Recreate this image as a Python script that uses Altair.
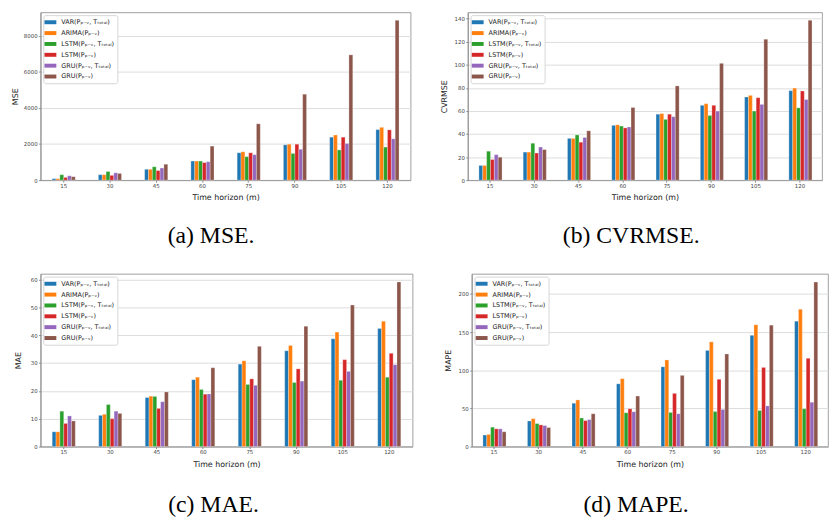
import altair as alt
import pandas as pd

horizons = ["15", "30", "45", "60", "75", "90", "105", "120"]
models = ["VAR(Pₚ₋ᵥ, Tₜₒₜₐₗ)", "ARIMA(Pₚ₋ᵥ)", "LSTM(Pₚ₋ᵥ, Tₜₒₜₐₗ)",
          "LSTM(Pₚ₋ᵥ)", "GRU(Pₚ₋ᵥ, Tₜₒₜₐₗ)", "GRU(Pₚ₋ᵥ)"]
colors = ["#1f77b4", "#ff7f0e", "#2ca02c", "#d62728", "#9467bd", "#8c564b"]

# MSE
mse_var = [80, 300, 600, 1057, 1515, 1956, 2380, 2800]
mse_arima = [80, 300, 600, 1057, 1570, 1990, 2500, 2925]
mse_lstm_t = [300, 476, 740, 1057, 1300, 1480, 1675, 1830]
mse_lstm = [150, 264, 530, 970, 1515, 1990, 2380, 2785]
mse_gru_t = [240, 405, 670, 1020, 1410, 1710, 2030, 2290]
mse_gru = [190, 370, 880, 1885, 3120, 4760, 6940, 8850]

# CVRMSE
cv_var = [12.7, 24.3, 36.2, 47.5, 57.2, 64.9, 72.1, 77.6]
cv_arima = [12.7, 24.3, 36.2, 48.0, 57.7, 66.3, 73.5, 79.8]
cv_lstm_t = [25.1, 32.0, 39.2, 46.9, 52.7, 56.1, 59.9, 62.7]
cv_lstm = [17.9, 23.5, 32.9, 45.3, 57.2, 64.9, 71.5, 77.3]
cv_gru_t = [22.1, 28.7, 37.0, 46.1, 55.0, 59.9, 65.7, 69.9]
cv_gru = [19.9, 26.5, 42.8, 63.0, 81.7, 101.3, 122.3, 138.6]

# MAE
mae_var = [5.3, 11.2, 17.6, 24.0, 29.6, 34.4, 38.7, 42.4]
mae_arima = [5.3, 11.6, 18.1, 24.9, 30.8, 36.3, 41.1, 45.0]
mae_lstm_t = [12.7, 15.1, 18.0, 20.5, 22.3, 23.0, 23.8, 24.9]
mae_lstm = [8.3, 10.0, 13.7, 18.8, 24.3, 27.9, 31.2, 33.5]
mae_gru_t = [11.0, 12.7, 16.1, 18.9, 22.0, 23.5, 27.0, 29.4]
mae_gru = [9.2, 11.9, 19.6, 28.3, 36.0, 43.2, 50.8, 59.1]

# MAPE
mape_var = [15.1, 33.5, 56.8, 82.2, 104.5, 126.0, 145.8, 164.3]
mape_arima = [15.9, 36.6, 61.1, 89.0, 113.5, 137.2, 159.6, 179.8]
mape_lstm_t = [25.4, 30.1, 37.4, 44.3, 44.7, 46.0, 47.3, 49.5]
mape_lstm = [23.2, 28.4, 34.0, 49.5, 69.7, 88.2, 103.7, 115.7]
mape_gru_t = [23.2, 27.5, 35.3, 45.6, 43.0, 48.6, 53.3, 58.1]
mape_gru = [19.4, 24.9, 43.0, 66.2, 93.3, 121.3, 159.1, 215.5]


def frame(series):
    rows = []
    for m, vals in zip(models, series):
        for h, v in zip(horizons, vals):
            rows.append({"horizon": h, "model": m, "value": v})
    return pd.DataFrame(rows)


def panel(series, ytitle, ytop, yticks, width, height, caption, tpad, coff):
    df = frame(series)
    return alt.Chart(df).mark_bar(
        stroke="white", strokeWidth=0.4, strokeOpacity=0.7
    ).encode(
        x=alt.X("horizon:N", sort=horizons, title="Time horizon (m)",
                scale=alt.Scale(paddingInner=0.5, paddingOuter=0.25),
                axis=alt.Axis(labelAngle=0, bandPosition=0.5, titlePadding=5)),
        xOffset=alt.XOffset("model:N", sort=models,
                            scale=alt.Scale(paddingInner=0, paddingOuter=0)),
        y=alt.Y("value:Q", title=ytitle,
                scale=alt.Scale(domain=[0, ytop], nice=False, zero=True),
                axis=alt.Axis(values=yticks, format="d", titlePadding=tpad)),
        color=alt.Color("model:N", sort=models,
                        scale=alt.Scale(domain=models, range=colors),
                        legend=alt.Legend(title=None, orient="top-left", offset=3)),
    ).properties(
        width=width, height=height,
        title=alt.TitleParams(caption, orient="bottom", font="Liberation Serif",
                              fontSize=24, fontWeight="normal", color="black",
                              anchor="middle", frame="bounds", offset=coff),
    )


pa = panel([mse_var, mse_arima, mse_lstm_t, mse_lstm, mse_gru_t, mse_gru],
           "MSE", 9292, [0, 2000, 4000, 6000, 8000], 375, 170, "(a) MSE.", 4, 23)
pb = panel([cv_var, cv_arima, cv_lstm_t, cv_lstm, cv_gru_t, cv_gru],
           "CVRMSE", 145.5, [0, 20, 40, 60, 80, 100, 120, 140], 359, 170,
           "(b) CVRMSE.", 6, 23)
pc = panel([mae_var, mae_arima, mae_lstm_t, mae_lstm, mae_gru_t, mae_gru],
           "MAE", 62.0, [0, 10, 20, 30, 40, 50, 60], 377, 175, "(c) MAE.", 8, 25)
pd_ = panel([mape_var, mape_arima, mape_lstm_t, mape_lstm, mape_gru_t, mape_gru],
            "MAPE", 226.3, [0, 50, 100, 150, 200], 361, 175, "(d) MAPE.", 6, 25)

row1 = alt.hconcat(pa, pb, spacing=28).resolve_legend(color="independent")
row2 = alt.hconcat(pc, pd_, spacing=30).resolve_legend(color="independent")

chart = alt.vconcat(row1, row2, spacing=24).resolve_legend(
    color="independent"
).properties(
    padding={"left": 3, "top": 0, "right": 0, "bottom": 0}
).configure_axis(
    labelFont="DejaVu Sans", labelFontSize=5.5, labelColor="#444",
    titleFont="DejaVu Sans", titleFontSize=8, titleFontWeight="normal",
    titleColor="#222", gridColor="#dcdcdc", gridWidth=1,
    domainColor="#888", domainWidth=0.8, tickColor="#888", tickSize=2,
    labelPadding=1.5, titlePadding=2,
).configure_view(
    stroke="#888", strokeWidth=0.8
).configure_legend(
    labelFont="DejaVu Sans", labelFontSize=6.5, labelColor="#222",
    symbolType="M-1.5,-0.5H1.5V0.5H-1.5Z", symbolSize=64,
    symbolStrokeWidth=0, symbolOpacity=1, labelOffset=7, rowPadding=3,
    padding=3, fillColor="white", strokeColor="#ccc", cornerRadius=2,
    strokeWidth=0.8,
)

chart.save("out.html", embed_options={"renderer": "svg", "actions": False})
